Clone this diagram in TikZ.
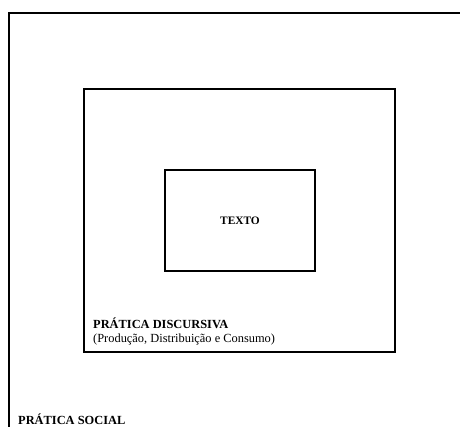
\documentclass[tikz,border=0pt]{standalone}
\usepackage{fontspec}
\setmainfont{Liberation Serif}
\usetikzlibrary{positioning}

\begin{document}
\begin{tikzpicture}[x=1pt,y=-1pt,
   box/.style={draw,line width=1.4pt,inner sep=0pt},
   rotulo/.style={inner sep=0pt,anchor=base west,font=\fontsize{12.4}{14}\selectfont}]
   \useasboundingbox (0,0) rectangle (460,426);
   \clip (0,0) rectangle (460,426);
   \node[box,minimum width=462pt,minimum height=426pt] (social) at (240,226) {};
   \node[box,minimum width=311pt,minimum height=263pt] (discursiva) at (239.5,220.5) {};
   \node[box,minimum width=150pt,minimum height=101pt] (texto) at (240,220.5)
      {\fontsize{11.4}{13}\selectfont\bfseries TEXTO};
   \node[rotulo] (pd) at (93,328) {\bfseries PRÁTICA DISCURSIVA};
   \node[rotulo] (pdc) at (93,342) {(Produção, Distribuição e Consumo)};
   \node[rotulo] (ps) at (18,424.5) {\bfseries PRÁTICA SOCIAL};
\end{tikzpicture}
\end{document}
